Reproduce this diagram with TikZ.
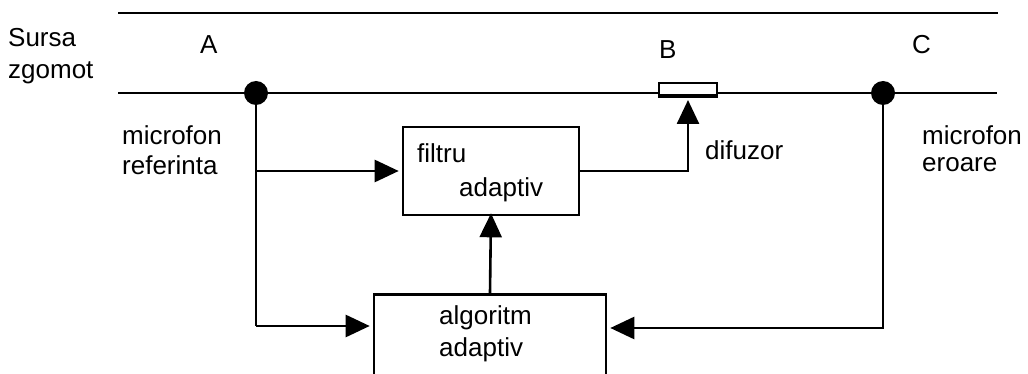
\documentclass[tikz,border=0pt]{standalone}
\usepackage{fontspec}
\setmainfont{Liberation Sans}
\usetikzlibrary{arrows.meta}
\begin{document}
\begin{tikzpicture}[x=1pt,y=-1pt,
  wire/.style={line width=2.6pt},
  arr/.style={wire,-{Triangle[length=24pt,width=22pt]}},
  blk/.style={draw,line width=2.6pt,rectangle,inner sep=0pt},
  lbl/.style={font=\fontsize{26}{30}\selectfont,inner sep=0pt,align=left,anchor=west},
  dot/.style={circle,fill=black,minimum size=24pt,inner sep=0pt}]
\useasboundingbox (0,0) rectangle (1028,374);
% top line
\coordinate (t1) at (118,13); \coordinate (t2) at (998,13);
\draw[wire] (t1) -- (t2);
% duct line
\coordinate (m1) at (118,93); \coordinate (m2) at (997,93);
\draw[wire] (m1) -- (m2);
\node[dot] (A) at (256,93) {};
\node[dot] (C) at (883,93) {};
\node[draw,fill=white,line width=2.2pt,minimum width=58pt,minimum height=12pt,inner sep=0pt] (B) at (688,89) {};
\draw[line width=4pt] (B.south west) -- (B.south east);
\coordinate (bt) at (688,100);
% boxes
\node[blk,minimum width=176pt,minimum height=88pt] (F) at (491,171) {};
\node[blk,minimum width=232pt,minimum height=88pt,anchor=north] (G) at (490,293) {};
% texts
\node[lbl] (s1) at (8,38) {Sursa};
\node[lbl] (s2) at (8,73) {zgomot};
\node[lbl] (la) at (200,45) {A};
\node[lbl] (lb) at (659,50) {B};
\node[lbl] (lc) at (912,45) {C};
\node[lbl] (r1) at (122,135) {microfon};
\node[lbl] (r2) at (122,165) {referinta};
\node[lbl] (e1) at (922,135) {microfon};
\node[lbl] (e2) at (922,165) {eroare};
\node[lbl] (d) at (705,150) {difuzor};
\node[lbl] (f1) at (417,153) {filtru};
\node[lbl] (f2) at (459,190) {adaptiv};
\node[lbl] (g1) at (439,318) {algoritm};
\node[lbl] (g2) at (439,350) {adaptiv};
% connectors
\coordinate (j1) at (256,171);
\coordinate (j2) at (256,326);
\coordinate (j3) at (883,328);
\draw[wire] (A.center) -- (j2);
\draw[arr] (j1) -- ([xshift=-3pt]F.west |- j1);
\draw[arr] (j2) -- ([xshift=-3pt]G.west |- j2);
\draw[arr] (C.center) -- (j3) -- ([xshift=3pt]G.east |- j3);
\draw[arr] (F.east |- 0,171) -| (bt);
\draw[arr] (G.north) -- ([yshift=3pt]F.south);
\end{tikzpicture}
\end{document}
